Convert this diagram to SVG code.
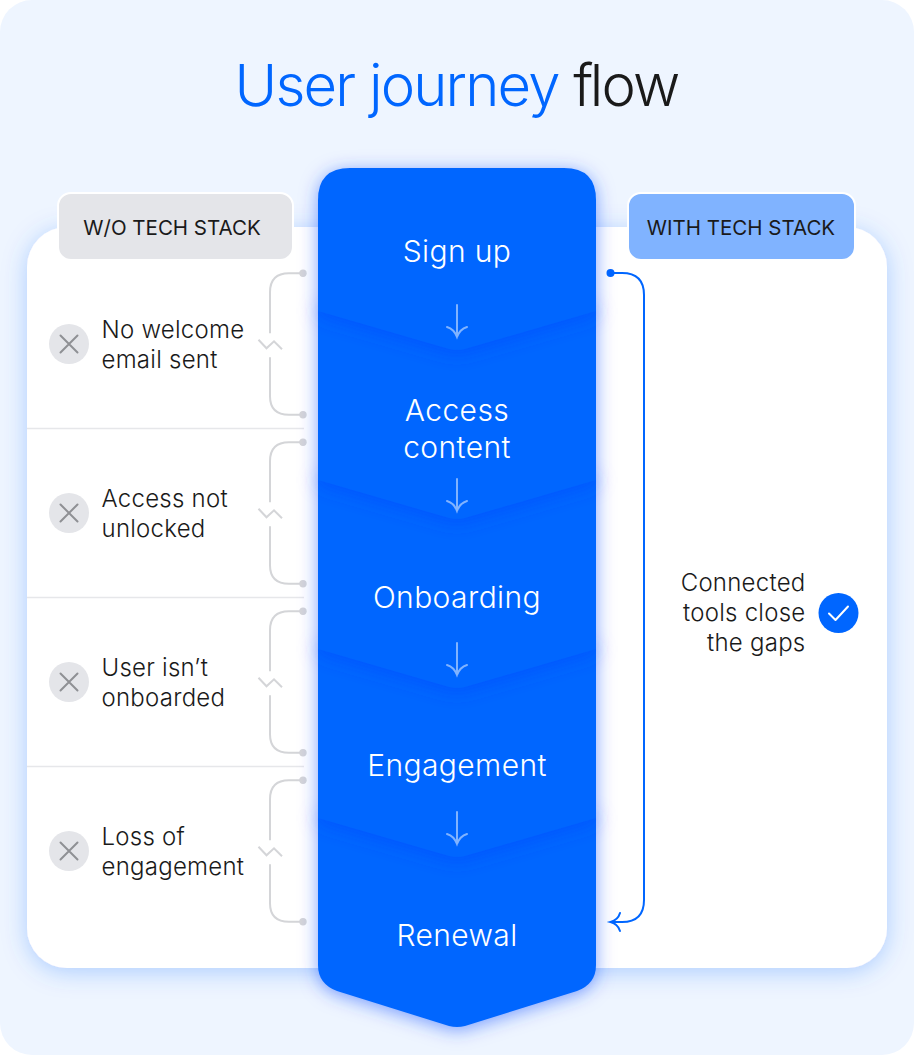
<svg xmlns="http://www.w3.org/2000/svg" width="914" height="1055" viewBox="0 0 914 1055">
<style>
text{font-family:"Inter","Liberation Sans",sans-serif;font-weight:300}
.t{font-size:24px;fill:#1a1a1a;letter-spacing:.25px}
.h{font-size:20.500px;fill:#1a1a1a;font-weight:400;text-anchor:middle}
.s{font-size:30px;fill:#fff;text-anchor:middle;letter-spacing:.4px}
.seg{fill:#0066ff;filter:url(#segShadow)}
.br{fill:none;stroke:#d4d5d8;stroke-width:2}
.dot{fill:#d4d5d8}
.x{fill:none;stroke:#8f9094;stroke-width:2;stroke-linecap:round}
.ar{fill:none;stroke:#80b3ff;stroke-width:2;stroke-linecap:round}
.dv{stroke:#e6e7ea;stroke-width:1.500}
</style>
<defs>
<filter id="segShadow" x="-20%" y="-20%" width="140%" height="140%"><feDropShadow dx="0" dy="3" stdDeviation="9" flood-color="#0040ff" flood-opacity=".5"/></filter>
<filter id="cardShadow" x="-10%" y="-10%" width="120%" height="120%"><feDropShadow dx="0" dy="4" stdDeviation="12" flood-color="#0066ff" flood-opacity=".28"/></filter>
<g id="xi"><circle r="20" fill="#e4e5e9"/><path class="x" d="M-8.500-8.500 8.500 8.500M8.500-8.500-8.500 8.500"/></g>
<g id="bracket"><path class="br" d="M303 0H289Q270 0 270 19V60M258.500 66.500 266.500 75 274 68 282 76M270 84V123Q270 141.500 289 141.500H303"/><circle class="dot" cx="303" cy="0" r="3.700"/><circle class="dot" cx="303" cy="141.500" r="3.700"/></g>
<path id="ah" class="ar" d="M0 0V32M-10 22Q-3 24 0 32Q3 24 10 22"/>
</defs>
<rect width="914" height="1055" rx="32" fill="#eef5ff"/>
<g id="title"><text x="456.500" y="106" text-anchor="middle" font-size="58" letter-spacing="-1.800"><tspan fill="#0066ff">User journey</tspan> <tspan fill="#1a1a1a"><tspan letter-spacing="-3.500">f</tspan>low</tspan></text></g>
<rect id="card" x="27" y="227" width="860" height="741" rx="40" fill="#fff" filter="url(#cardShadow)"/>
<g id="tag-without"><rect x="58" y="193" width="235" height="67" rx="13" fill="#e4e5e9" stroke="#fff" stroke-width="2"/><text class="h" x="172" y="235">W/O TECH STACK</text></g>
<g id="tag-with"><rect x="628" y="193" width="227" height="67" rx="13" fill="#80b3ff" stroke="#fff" stroke-width="2"/><text class="h" x="741" y="235">WITH TECH STACK</text></g>
<g id="dividers"><path class="dv" d="M27 428.500H304M27 597.500H304M27 766.500H304"/></g>
<g id="connectors">
<use href="#bracket" y="273.300"/><use href="#bracket" y="442.300"/><use href="#bracket" y="611.300"/><use href="#bracket" y="780.300"/>
<circle cx="610.500" cy="273" r="4" fill="#0066ff"/>
<path d="M611 273H622Q644 273 644 295V900Q644 922 622 922H611M620 913Q618 920 610.500 922Q618 924 620 931" fill="none" stroke="#0066ff" stroke-width="2" stroke-linecap="round"/>
</g>
<g id="step-renewal"><path class="seg" d="M318 812H596V965Q596 984 577 991L465 1026Q457 1028 449 1026L337 991Q318 984 318 965Z"/><text class="s" x="457" y="946">Renewal</text></g>
<g id="step-engagement"><path class="seg" d="M318 643H596V818L465 856Q457 858 449 856L318 818Z"/><text class="s" x="457" y="776">Engagement</text></g>
<g id="step-onboarding"><path class="seg" d="M318 474H596V649L465 687Q457 689 449 687L318 649Z"/><text class="s" x="457" y="608">Onboarding</text></g>
<g id="step-access"><path class="seg" d="M318 305H596V480L465 518Q457 520 449 518L318 480Z"/><text class="s" x="457" y="421">Access</text><text class="s" x="457" y="457.500">content</text></g>
<g id="step-signup"><path class="seg" d="M350 168H564Q596 168 596 200V311L465 349Q457 351 449 349L318 311V200Q318 168 350 168Z"/><text class="s" x="457" y="262">Sign up</text></g>
<g id="arrows"><use href="#ah" x="457" y="305"/><use href="#ah" x="457" y="479"/><use href="#ah" x="457" y="643"/><use href="#ah" x="457" y="812"/></g>
<g id="item-1"><use href="#xi" x="69" y="344"/><text class="t" x="101.500" y="338">No welcome</text><text class="t" x="101.500" y="368">email sent</text></g>
<g id="item-2"><use href="#xi" x="69" y="513"/><text class="t" x="101.500" y="507">Access not</text><text class="t" x="101.500" y="537">unlocked</text></g>
<g id="item-3"><use href="#xi" x="69" y="682"/><text class="t" x="101.500" y="676">User isn’t</text><text class="t" x="101.500" y="706">onboarded</text></g>
<g id="item-4"><use href="#xi" x="69" y="851"/><text class="t" x="101.500" y="845">Loss of</text><text class="t" x="101.500" y="875">engagement</text></g>
<g id="result"><text class="t" text-anchor="end" x="805.500" y="591">Connected</text><text class="t" text-anchor="end" x="805.500" y="621">tools close</text><text class="t" text-anchor="end" x="805.500" y="651">the gaps</text><circle cx="838.500" cy="613" r="20" fill="#0066ff"/><path d="M829 613.500 835.500 620 848 606.500" fill="none" stroke="#fff" stroke-width="2" stroke-linecap="round" stroke-linejoin="round"/></g>
</svg>
